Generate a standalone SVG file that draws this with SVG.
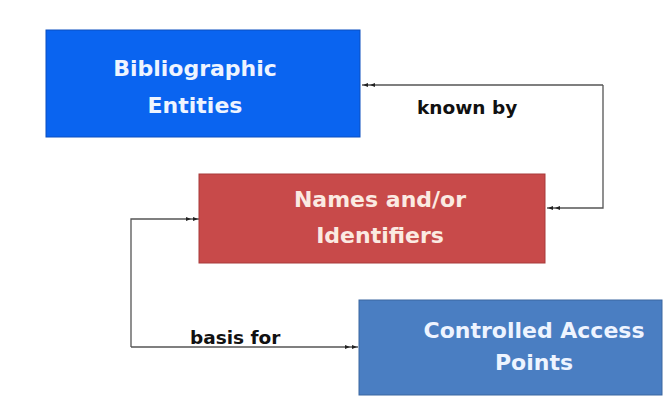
<svg xmlns="http://www.w3.org/2000/svg" width="665" height="410" viewBox="0 0 665 410">
<style>
.box-text{font-family:"DejaVu Sans","Verdana",sans-serif;font-weight:bold;font-size:22px;text-anchor:middle}
.lbl{font-family:"DejaVu Sans","Verdana",sans-serif;font-weight:bold;font-size:18.5px;fill:#111}
.conn{fill:none;stroke:#555;stroke-width:1.3}
</style>
<defs>
<marker id="arr" markerWidth="14" markerHeight="8" refX="13" refY="4" orient="auto" markerUnits="userSpaceOnUse">
<path d="M0,2 L5,4 L0,6 Z M7,2 L12,4 L7,6 Z" fill="#222"/>
</marker>
</defs>
<rect width="665" height="410" fill="#fff"/>
<g id="connectors">
<polyline class="conn" points="603,85 603,208 547,208" marker-end="url(#arr)"/>
<polyline class="conn" points="603,85 362,85" marker-end="url(#arr)"/>
<polyline class="conn" points="131,347 131,219 199,219" marker-end="url(#arr)"/>
<polyline class="conn" points="131,347 358,347" marker-end="url(#arr)"/>
<text class="lbl" x="417" y="114">known by</text>
<text class="lbl" x="190" y="344">basis for</text>
</g>
<g id="bibliographic-entities">
<rect x="46" y="30" width="314" height="107" fill="#0A64F0" stroke="#0A4FC0" stroke-width="1"/>
<text class="box-text" x="195" y="76" fill="#EEF4FF">Bibliographic</text>
<text class="box-text" x="195" y="113" fill="#EEF4FF">Entities</text>
</g>
<g id="names-identifiers">
<rect x="199" y="174" width="346" height="89" fill="#C84A4A" stroke="#A83A3A" stroke-width="1"/>
<text class="box-text" x="380" y="207" fill="#FBEAE2">Names and/or</text>
<text class="box-text" x="380" y="243" fill="#FBEAE2">Identifiers</text>
</g>
<g id="controlled-access-points">
<rect x="359" y="300" width="303" height="95" fill="#4A7EC2" stroke="#3A66A0" stroke-width="1"/>
<text class="box-text" x="534" y="338" fill="#EEF4FF">Controlled Access</text>
<text class="box-text" x="534" y="370" fill="#EEF4FF">Points</text>
</g>
</svg>
